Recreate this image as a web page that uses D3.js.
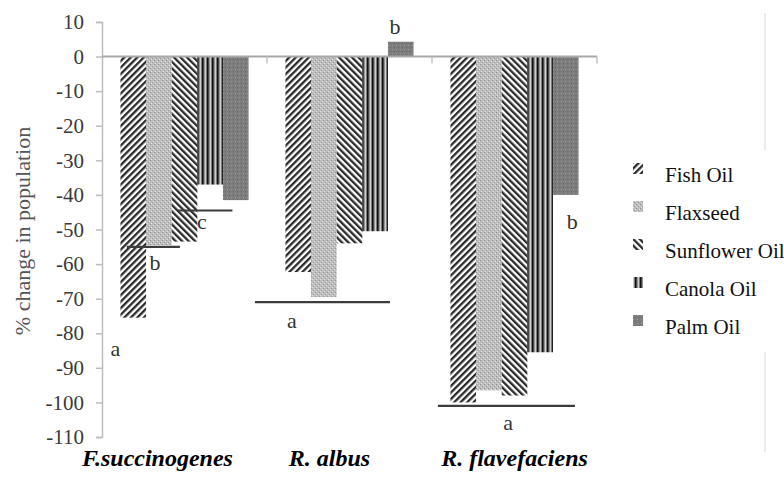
<!DOCTYPE html>
<html>
<head>
<meta charset="utf-8">
<script src="https://cdn.jsdelivr.net/npm/d3@7/dist/d3.min.js"></script>
<style>
  html, body { margin: 0; padding: 0; background: #fff; }
  svg { display: block; }
</style>
</head>
<body>
<svg id="chart" width="784" height="477"></svg>
<script>
// ---------------- data ----------------
const categories = ["F.succinogenes", "R. albus", "R. flavefaciens"];
const series = ["Fish Oil", "Flaxseed", "Sunflower Oil", "Canola Oil", "Palm Oil"];
const fishOil      = [-75.5, -62.3, -100];
const flaxseed     = [-54.5, -69.5, -96.5];
const sunflowerOil = [-53.5, -54,   -98];
const canolaOil    = [-37,   -50.5, -85.5];
const palmOil      = [-41.5,  4.3,  -40];
const seriesValues = [fishOil, flaxseed, sunflowerOil, canolaOil, palmOil];
const yTicks = [10, 0, -10, -20, -30, -40, -50, -60, -70, -80, -90, -100, -110];

// significance lines: category, level, span in bar units
const sigLines = [
  { cat: "F.succinogenes", value: -55,   from: 0.25,  to: 2.32 },
  { cat: "F.succinogenes", value: -44.5, from: 2.25,  to: 4.37 },
  { cat: "R. albus",       value: -71,   from: -1.19, to: 4.08 },
  { cat: "R. flavefaciens",value: -101,  from: -0.49, to: 4.86 }
];
// significance letters: category, position in bar units, level
const sigLetters = [
  { cat: "F.succinogenes", letter: "a", pos: -0.2, value: -84.3 },
  { cat: "F.succinogenes", letter: "b", pos: 1.35, value: -59.4 },
  { cat: "F.succinogenes", letter: "c", pos: 3.18, value: -47.8 },
  { cat: "R. albus",       letter: "a", pos: 0.25, value: -76.2 },
  { cat: "R. albus",       letter: "b", pos: 4.28, value: 8.6 },
  { cat: "R. flavefaciens",letter: "a", pos: 2.25, value: -105.7 },
  { cat: "R. flavefaciens",letter: "b", pos: 4.75, value: -47.8 }
];

// ---------------- drawing ----------------
const FONT = "'Liberation Serif'";
const svg = d3.select("#chart");
const defs = svg.append("defs");

// patterns
function stripePattern(id, angle) {
  const p = defs.append("pattern").attr("id", id)
    .attr("patternUnits", "userSpaceOnUse").attr("width", 4.6).attr("height", 10)
    .attr("patternTransform", `rotate(${angle})`);
  p.append("rect").attr("width", 4.6).attr("height", 10).attr("fill", "#fff");
  p.append("rect").attr("width", 2.3).attr("height", 10).attr("fill", "#2a2a2a");
}
stripePattern("p-fish", 45);
stripePattern("p-sun", -45);

(function () {
  const p = defs.append("pattern").attr("id", "p-flax")
    .attr("patternUnits", "userSpaceOnUse").attr("width", 4).attr("height", 4);
  p.append("rect").attr("width", 4).attr("height", 4).attr("fill", "#bdbdbd");
  p.append("rect").attr("x", 0).attr("y", 0).attr("width", 1).attr("height", 1).attr("fill", "#8f8f8f");
  p.append("rect").attr("x", 2).attr("y", 2).attr("width", 1).attr("height", 1).attr("fill", "#9a9a9a");
  p.append("rect").attr("x", 1).attr("y", 3).attr("width", 1).attr("height", 1).attr("fill", "#e2e2e2");
  p.append("rect").attr("x", 3).attr("y", 1).attr("width", 1).attr("height", 1).attr("fill", "#e8e8e8");
})();
(function () {
  const p = defs.append("pattern").attr("id", "p-canola")
    .attr("patternUnits", "userSpaceOnUse").attr("width", 5).attr("height", 5);
  p.append("rect").attr("width", 5).attr("height", 5).attr("fill", "#7a7a7a");
  p.append("rect").attr("x", 0).attr("width", 1.5).attr("height", 5).attr("fill", "#111");
  p.append("rect").attr("x", 2.8).attr("width", 0.9).attr("height", 5).attr("fill", "#f4f4f4");
})();
(function () {
  const p = defs.append("pattern").attr("id", "p-palm")
    .attr("patternUnits", "userSpaceOnUse").attr("width", 4).attr("height", 4);
  p.append("rect").attr("width", 4).attr("height", 4).attr("fill", "#7c7c7c");
  p.append("rect").attr("x", 1).attr("y", 1).attr("width", 1).attr("height", 1).attr("fill", "#9c9c9c");
  p.append("rect").attr("x", 3).attr("y", 3).attr("width", 1).attr("height", 1).attr("fill", "#6a6a6a");
})();
const fills = ["url(#p-fish)", "url(#p-flax)", "url(#p-sun)", "url(#p-canola)", "url(#p-palm)"];

const y = d3.scaleLinear().domain([-110, 10]).range([437, 22]);
const x0 = d3.scaleBand().domain(categories).range([102, 597]).paddingInner(0).paddingOuter(0);
const x1 = d3.scaleBand().domain(series).range([0, x0.bandwidth()]).paddingInner(0).paddingOuter(0.72);
const barX = (cat, u) => x0(cat) + x1(series[0]) + u * x1.step();

// faint right border remnants
svg.append("line").attr("x1", 765).attr("x2", 765).attr("y1", 13).attr("y2", 150)
  .attr("stroke", "#e4e4e4").attr("stroke-width", 1.5);
svg.append("line").attr("x1", 765).attr("x2", 765).attr("y1", 352).attr("y2", 452)
  .attr("stroke", "#e4e4e4").attr("stroke-width", 1.5);

// bars
const groups = svg.append("g").selectAll("g").data(categories).join("g")
  .attr("transform", d => `translate(${x0(d)},0)`);
groups.selectAll("rect")
  .data((cat, ci) => series.map((s, si) => ({ s, si, v: seriesValues[si][ci] })))
  .join("rect")
  .attr("x", d => x1(d.s))
  .attr("width", x1.bandwidth())
  .attr("y", d => y(Math.max(0, d.v)))
  .attr("height", d => Math.abs(y(d.v) - y(0)))
  .attr("fill", d => fills[d.si]);

// y axis
const yAxis = d3.axisLeft(y).tickValues(yTicks).tickSize(6).tickPadding(12);
const ga = svg.append("g").attr("transform", "translate(102,0)").call(yAxis);
ga.attr("font-family", null);
ga.select(".domain").attr("stroke", "#bdbdbd").attr("stroke-width", 1.5);
ga.selectAll(".tick line").attr("stroke", "#bdbdbd").attr("stroke-width", 1.5);
ga.selectAll(".tick text").attr("font-size", 21).attr("fill", "#3a3a3a")
  .style("font-family", FONT)
  .text(d => (d < 0 ? "-" + Math.abs(d) : d));

// zero line with category ticks
svg.append("line").attr("x1", 102).attr("x2", 597).attr("y1", y(0)).attr("y2", y(0))
  .attr("stroke", "#a8a8a8").attr("stroke-width", 2);
svg.append("g").selectAll("line").data(categories).join("line")
  .attr("x1", d => x0(d) + x0.bandwidth()).attr("x2", d => x0(d) + x0.bandwidth())
  .attr("y1", y(0)).attr("y2", y(0) + 7)
  .attr("stroke", "#c4c4c4").attr("stroke-width", 1.5);

// significance lines and letters
svg.append("g").selectAll("line").data(sigLines).join("line")
  .attr("x1", d => barX(d.cat, d.from)).attr("x2", d => barX(d.cat, d.to))
  .attr("y1", d => y(d.value)).attr("y2", d => y(d.value))
  .attr("stroke", "#3c3c3c").attr("stroke-width", 2.2);
svg.append("g").selectAll("text").data(sigLetters).join("text")
  .attr("x", d => barX(d.cat, d.pos)).attr("y", d => y(d.value))
  .attr("text-anchor", "middle").attr("dominant-baseline", "central")
  .style("font-family", FONT)
  .attr("font-size", 22).attr("fill", "#333")
  .text(d => d.letter);

// y title
svg.append("text")
  .attr("transform", "translate(22,231) rotate(-90)")
  .attr("text-anchor", "middle").attr("dominant-baseline", "central")
  .style("font-family", FONT)
  .attr("font-size", 22).attr("fill", "#555")
  .text("% change in population");

// category labels
const labelShift = [-27, -20, 0];
svg.append("g").selectAll("text").data(categories).join("text")
  .attr("x", (d, i) => x0(d) + x0.bandwidth() / 2 + labelShift[i])
  .attr("y", 466)
  .attr("text-anchor", "middle")
  .style("font-family", FONT)
  .attr("font-size", 24).attr("font-weight", "bold").attr("font-style", "italic")
  .attr("fill", "#000")
  .text(d => d);

// legend
const lg = svg.append("g").selectAll("g").data(series).join("g")
  .attr("transform", (d, i) => `translate(0,${182 + i * 38})`);
lg.append("rect").attr("x", 633).attr("y", -19).attr("width", 10).attr("height", 11)
  .attr("fill", (d, i) => fills[i]);
lg.append("text").attr("x", 665).attr("y", 0)
  .style("font-family", FONT)
  .attr("font-size", 21).attr("fill", "#111")
  .text(d => d);
</script>
</body>
</html>
